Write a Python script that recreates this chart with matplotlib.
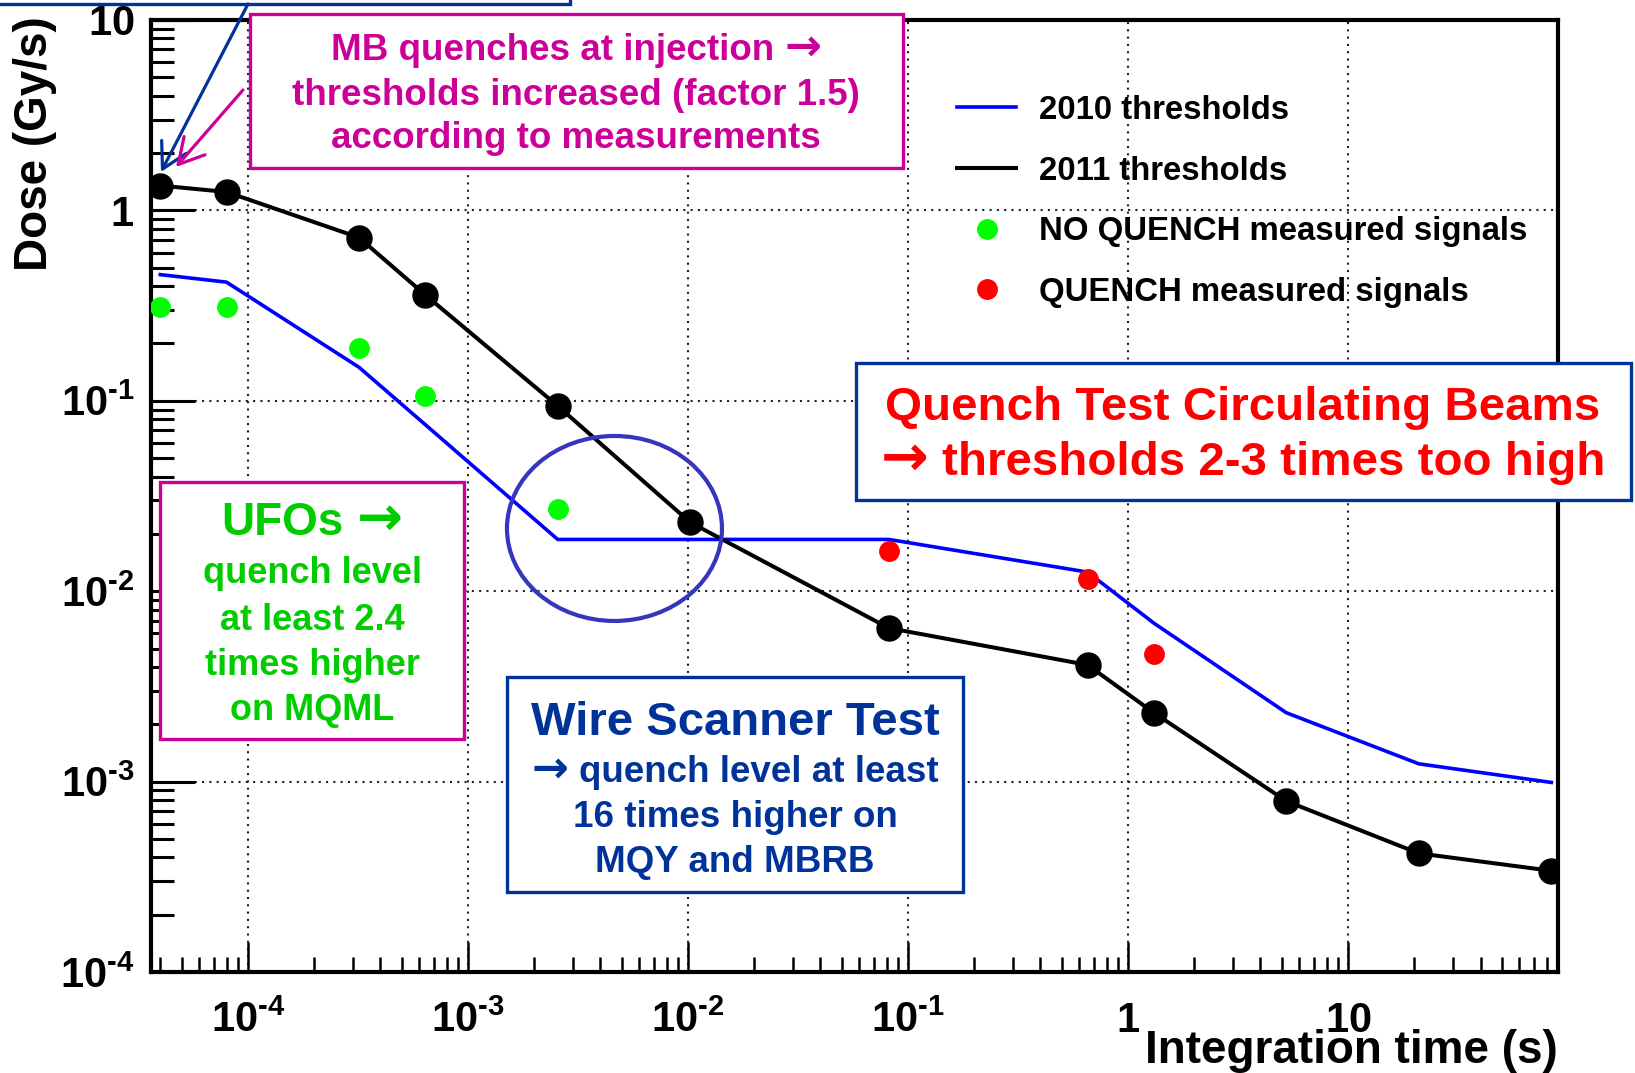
import matplotlib
matplotlib.use("Agg")
import matplotlib.pyplot as plt
import matplotlib.ticker as mticker
from matplotlib import font_manager
from matplotlib.ft2font import FT2Font
from matplotlib.patches import Rectangle, Ellipse, FancyArrowPatch

W, H = 1635, 1073

# BLM running-sum integration times (s)
rs_time = [4e-5, 8e-5, 3.2e-4, 6.4e-4, 2.56e-3, 1.024e-2, 8.192e-2,
           0.655, 1.31, 5.24, 20.97, 83.89]
thr_2010 = [0.46, 0.42, 0.15, 0.075, 0.0187, 0.0187, 0.0187,
            0.0126, 0.0068, 0.0023, 0.00124, 0.00099]
thr_2011 = [1.35, 1.25, 0.72, 0.36, 0.094, 0.023, 0.0064,
            0.0041, 0.0023, 0.00079, 0.00042, 0.00034]
noq_time = [4e-5, 8e-5, 3.2e-4, 6.4e-4, 2.56e-3]
noq_dose = [0.31, 0.31, 0.19, 0.106, 0.027]
q_time = [8.192e-2, 0.655, 1.31]
q_dose = [0.0163, 0.0116, 0.0047]

x_ticks = [1e-4, 1e-3, 1e-2, 1e-1, 1, 10]
y_ticks = [1e-4, 1e-3, 1e-2, 1e-1, 1, 10]
tick_exp = [-4, -3, -2, -1, 0, 1]

plt.rcParams["font.family"] = ["Liberation Sans", "DejaVu Sans"]
plt.rcParams["mathtext.fontset"] = "custom"
plt.rcParams["mathtext.rm"] = "Liberation Sans"
plt.rcParams["mathtext.bf"] = "Liberation Sans:bold"

# short hyphen in the exponents, like the ROOT labels
_bold = font_manager.findfont(font_manager.FontProperties(family="Liberation Sans", weight="bold"))
HY = "\u2010" if 0x2010 in FT2Font(_bold).get_charmap() else "\u2013"


def exp_label(e):
    if e == 0:
        return r"$\mathbf{1}$"
    if e == 1:
        return r"$\mathbf{10}$"
    return r"$\mathbf{10^{" + HY + str(-e) + "}}$"


x_ticklabels = [exp_label(e) for e in tick_exp]
y_ticklabels = [exp_label(e) for e in tick_exp]

MAGENTA = "#CC0099"
DKBLUE = "#003399"
GREEN_TXT = "#00CC00"


def fx(px):
    return px / W


def fy(py):
    return 1 - py / H


fig = plt.figure(figsize=(W / 100, H / 100), dpi=100)
ax = fig.add_axes([fx(151), fy(972), fx(1558) - fx(151), fy(20) - fy(972)])
ax.set_xscale("log")
ax.set_yscale("log")
ax.set_xlim(3.63e-5, 90)
ax.set_ylim(1e-4, 10)

ax.plot(rs_time, thr_2010, color="#0000FF", lw=2.6, label="2010 thresholds", zorder=3)
ax.plot(rs_time, thr_2011, color="black", lw=2.9, label="2011 thresholds", zorder=3)
ax.plot(rs_time, thr_2011, "o", color="black", ms=18, zorder=4)
ax.plot(noq_time, noq_dose, "o", ls="none", color="#00FF00", ms=14,
        label="NO QUENCH measured signals", zorder=4)
ax.plot(q_time, q_dose, "o", ls="none", color="#FF0000", ms=14,
        label="QUENCH measured signals", zorder=4)

ax.grid(which="major", ls=(0, (1, 2.5)), lw=1.5, color="#222222")
ax.set_axisbelow(True)
for s in ax.spines.values():
    s.set_linewidth(3)

ax.xaxis.set_major_locator(mticker.FixedLocator(x_ticks))
ax.xaxis.set_minor_locator(mticker.LogLocator(base=10, subs=range(2, 10), numticks=30))
ax.xaxis.set_minor_formatter(mticker.NullFormatter())
ax.set_xticklabels(x_ticklabels)
ax.yaxis.set_major_locator(mticker.FixedLocator(y_ticks))
ax.yaxis.set_minor_locator(mticker.LogLocator(base=10, subs=range(2, 10), numticks=30))
ax.yaxis.set_minor_formatter(mticker.NullFormatter())
ax.set_yticklabels(y_ticklabels)

ax.tick_params(axis="both", which="both", direction="in", top=False, right=False, color="black")
ax.tick_params(axis="y", which="major", length=32, width=2.2, pad=12, labelsize=30)
ax.tick_params(axis="y", which="minor", length=16.5, width=2.2)
ax.tick_params(axis="x", which="major", length=21.6, width=1.8, pad=43, labelsize=30)
ax.tick_params(axis="x", which="minor", length=10.8, width=1.8)
for t in ax.xaxis.get_major_ticks():
    t.label1.set_verticalalignment("baseline")

ax.set_ylabel("Dose (Gy/s)", fontsize=33, fontweight="bold", loc="top")
ax.yaxis.set_label_coords(-0.067, 1.004)
ax.set_xlabel("Integration time (s)", fontsize=33, fontweight="bold", loc="right")
ax.xaxis.set_label_coords(1.0, -0.0956)
ax.xaxis.label.set_verticalalignment("baseline")

leg = ax.legend(loc="upper left", bbox_to_anchor=(fx(957), fy(95)),
                bbox_transform=fig.transFigure, frameon=False, borderpad=0,
                borderaxespad=0, handlelength=1.8, handletextpad=0.68,
                labelspacing=0.9, numpoints=1, prop={"size": 23.7, "weight": "bold"})

# ellipse around the crossing of the two threshold sets
fig.add_artist(Ellipse((0.3294, 0.4659), 0.1528, 0.1943, transform=ax.transAxes,
                       fill=False, edgecolor="#3535BE", lw=3, zorder=4))


def box(x0, y0, x1, y1, color):
    fig.add_artist(Rectangle((fx(x0), fy(y1)), fx(x1) - fx(x0), fy(y0) - fy(y1),
                             transform=fig.transFigure, facecolor="white",
                             edgecolor=color, lw=2.4, zorder=5))


renderer = fig.canvas.get_renderer()


def text_line(xc, b, text, size, color):
    """Centred bold line; the arrow sign is set in a heavier font."""
    parts = text.split("\u2192")
    pieces = []
    for i, p in enumerate(parts):
        p = p.strip()
        if p:
            pieces.append((p, "Liberation Sans", size))
        if i < len(parts) - 1:
            pieces.append(("\u2192", "DejaVu Sans", size * 1.2))
    arts = [fig.text(0, fy(b), p, ha="left", va="baseline", fontsize=s, family=fam,
                     color=color, fontweight="bold", zorder=6) for p, fam, s in pieces]
    widths = [a.get_window_extent(renderer).width for a in arts]
    gap = 0.28 * size * 100 / 72
    x = xc - (sum(widths) + gap * (len(widths) - 1)) / 2
    for a, w in zip(arts, widths):
        a.set_x(fx(x))
        x += w + gap


def lines(xc, baselines, texts, sizes, color):
    for b, t, s in zip(baselines, texts, sizes):
        text_line(xc, b, t, s, color)


def arrow(p0, p1, color):
    fig.add_artist(FancyArrowPatch((fx(p0[0]), fy(p0[1])), (fx(p1[0]), fy(p1[1])),
                                   transform=fig.transFigure, color=color, lw=2.3,
                                   arrowstyle="->,head_length=0.9,head_width=0.5",
                                   mutation_scale=20, shrinkA=0, shrinkB=0, zorder=6))


# clipped box at the top-left edge
box(-10, -60, 570, 4, DKBLUE)
arrow((248, 4), (161, 172), DKBLUE)
arrow((243, 90), (176, 167), MAGENTA)

box(250, 14, 903, 168, MAGENTA)
lines(576, [60, 105, 148],
      ["MB quenches at injection \u2192", "thresholds increased (factor 1.5)",
       "according to measurements"], [26.5, 26.5, 26.5], MAGENTA)

box(856, 363, 1631, 500, DKBLUE)
lines(1243, [420, 475],
      ["Quench Test Circulating Beams", "\u2192 thresholds 2-3 times too high"],
      [34.2, 34.2], "#FF0000")

box(160, 482, 464, 739, MAGENTA)
lines(312, [535, 583, 630, 675, 720],
      ["UFOs \u2192", "quench level", "at least 2.4", "times higher", "on MQML"],
      [33, 26, 26, 26, 26], GREEN_TXT)

box(507, 677, 963, 892, DKBLUE)
lines(735, [735, 782, 827, 872],
      ["Wire Scanner Test", "\u2192 quench level at least", "16 times higher on",
       "MQY and MBRB"], [34, 26.5, 26.5, 26.5], DKBLUE)

fig.savefig("out.png", dpi=100)
